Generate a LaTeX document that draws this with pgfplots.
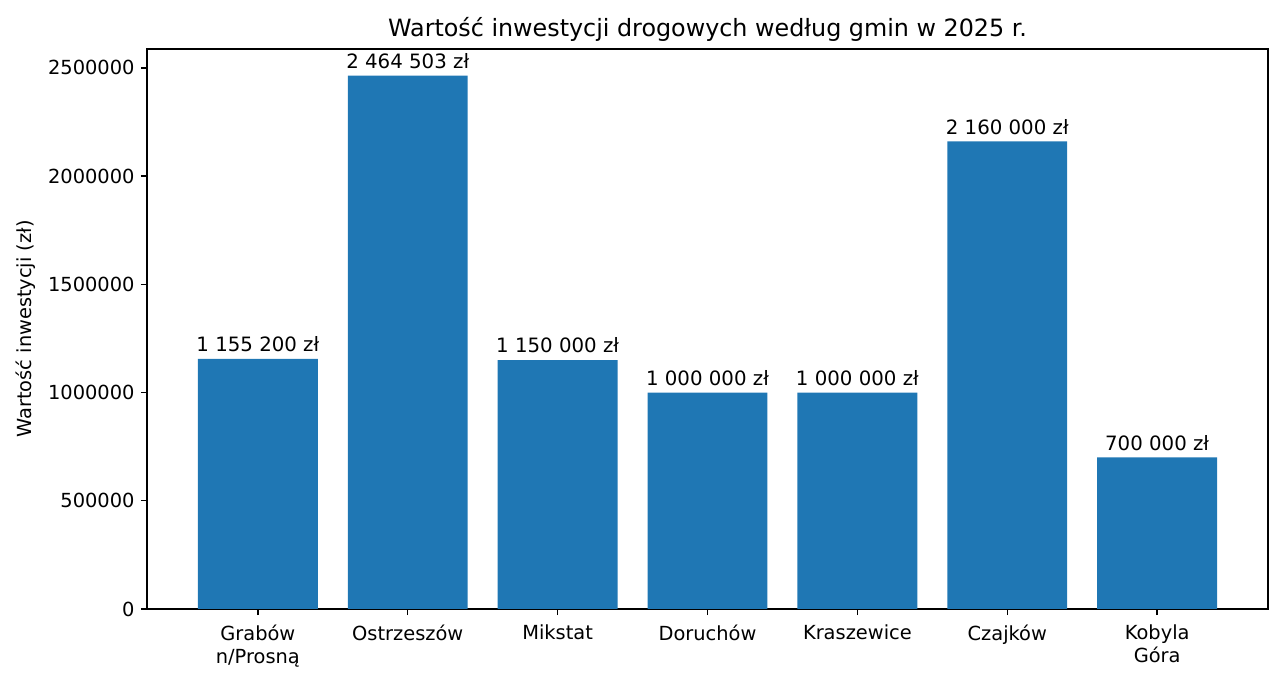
\documentclass[border=0pt]{standalone}
\usepackage{pgfplots}
\pgfplotsset{compat=1.18}
\usepackage{fontspec}
\setmainfont{DejaVu Sans}
\definecolor{mblue}{HTML}{1F77B4}
\begin{document}
\begin{tikzpicture}
\begin{axis}[
  at={(0,0)}, anchor=south west,
  scale only axis,
  width=635.5pt, height=317.5pt,
  xmin=-0.74, xmax=6.74,
  ymin=0, ymax=2587728,
  ybar, bar width=0.8,
  xtick={0,1,2,3,4,5,6},
  xticklabels={{Grabów\\n/Prosną},Ostrzeszów,Mikstat,Doruchów,Kraszewice,Czajków,{Kobyla\\Góra}},
  xticklabel style={align=center, font=\fontsize{11}{13.2}\selectfont, yshift=-2pt},
  ytick={0,500000,1000000,1500000,2000000,2500000},
  yticklabel style={font=\fontsize{11}{13}\selectfont},
  scaled y ticks=false,
  /pgf/number format/.cd, 1000 sep={}, assume math mode=true, /pgfplots/.cd,
  yticklabel={\pgfmathprintnumber[fixed,precision=0,1000 sep={}]{\tick}},
  tick align=outside, major tick length=3.5pt,
  tick style={black, line width=0.8pt},
  axis line style={line width=0.8pt},
  xtick pos=bottom, ytick pos=left,
  ylabel={Wartość inwestycji (zł)},
  ylabel style={font=\fontsize{11}{13}\selectfont},
  title={Wartość inwestycji drogowych według gmin w 2025 r.},
  title style={font=\fontsize{13.5}{16}\selectfont, yshift=-5.5pt},
  nodes near coords,
  point meta=explicit symbolic,
  every node near coord/.append style={font=\fontsize{11.2}{13}\selectfont, black, yshift=0.5pt},
]
\addplot[fill=mblue, draw=none] coordinates {
  (0,1155200) [1 155 200 zł]
  (1,2464503) [2 464 503 zł]
  (2,1150000) [1 150 000 zł]
  (3,1000000) [1 000 000 zł]
  (4,1000000) [1 000 000 zł]
  (5,2160000) [2 160 000 zł]
  (6,700000) [700 000 zł]
};
\end{axis}
\pgfresetboundingbox
\path (-83.3pt,-37.4pt) rectangle (638.3pt,345.2pt);
\end{tikzpicture}
\end{document}
